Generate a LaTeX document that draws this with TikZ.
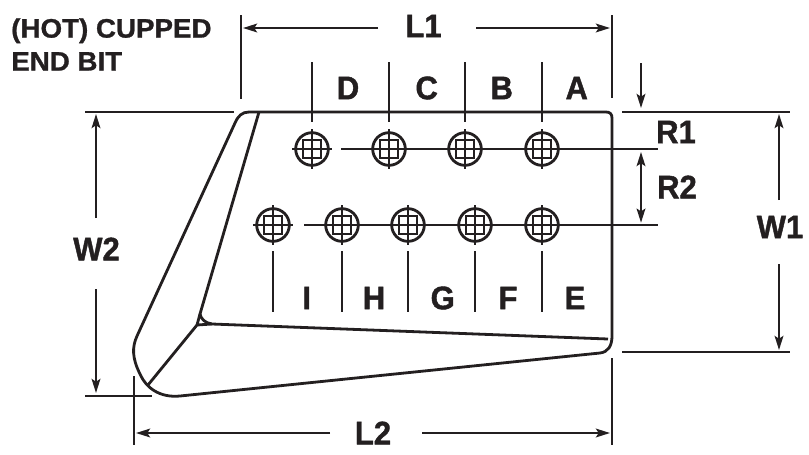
\documentclass[tikz,border=0pt]{standalone}
\usepackage{fontspec}
\setmainfont{Liberation Sans}
\newfontfamily\bigfont[FakeStretch=0.95,FakeBold=1.2]{Liberation Sans Bold}
\newfontfamily\titlefont[FakeStretch=1.04,FakeBold=1]{Liberation Sans Bold}
\usetikzlibrary{arrows.meta}
\definecolor{ink}{HTML}{231F20}
\tikzset{
  ln/.style={line width=1.9pt,color=ink,line cap=butt},
  tick/.style={line width=1.55pt,color=ink,line cap=butt},
  body/.style={line width=2.1pt,color=ink,line join=round},
  dim/.style={ln,line width=1.7pt,{Stealth[length=10.5pt,width=6.5pt,inset=2pt]}-{Stealth[length=10.5pt,width=6.5pt,inset=2pt]}},
  dimend/.style={ln,line width=1.7pt,-{Stealth[length=10.5pt,width=6.5pt,inset=2pt]}},
  big/.style={font=\bigfont\fontsize{24.5}{24.5}\selectfont,text=ink,inner sep=0pt},
  title/.style={font=\titlefont\fontsize{20}{24.7}\selectfont,text=ink,inner sep=0pt,align=left,anchor=north west},
  holec/.style={circle,draw=ink,line width=2.1pt,minimum size=24.5pt,inner sep=0pt,fill=none},
  holeln/.style={line width=1.8pt,color=ink}
}
\newcommand{\holemark}[3]{%
  \node[holec] (#1) at (#2,#3) {};
  \draw[holeln] (#2-20,#3) -- (#2+20,#3);
  \draw[holeln] (#2,#3-20) -- (#2,#3+20);
  \draw[holeln] (#2-9.25,#3-9.25) rectangle (#2+9.25,#3+9.25);
}
\begin{document}
\begin{tikzpicture}[x=0.75pt,y=-0.75pt]
\useasboundingbox (0,0) rectangle (809,454);
% body
\draw[body] (606,112) .. controls (610,112) and (612,114) .. (612,118) -- (612,336)
  .. controls (612,346) and (608,352) .. (600,353) -- (180,396)
  .. controls (160,398) and (146,388) .. (140,374)
  .. controls (132,358) and (132,347) .. (137,336) -- (235,123)
  .. controls (238,116) and (242,112) .. (249,112) -- cycle;
\draw[body] (259,112) -- (200,314) .. controls (201,319) and (205,323) .. (212,324) -- (608,339);
\draw[body] (148,385) -- (197,325) -- (212,324);
\draw[body] (200,314) -- (197,325);
% holes
\holemark{d}{312}{149}\holemark{c}{389}{149}\holemark{b}{465}{149}\holemark{a}{542}{149}
\holemark{i}{273}{225}\holemark{h}{342}{225}\holemark{g}{408}{225}\holemark{f}{475}{225}\holemark{e}{542}{225}
% centre lines
\coordinate (r1l) at (341,149); \coordinate (r1r) at (658,149);
\coordinate (r2l) at (304,225); \coordinate (r2r) at (658,225);
\draw[ln] (r1l) -- (r1r);
\draw[ln] (r2l) -- (r2r);
% extension lines above and below the holes
\foreach \x in {312,389,465,542}{
  \draw[tick] (\x,62) -- (\x,122);
}
\foreach \x in {273,342,408,475,542}{
  \draw[tick] (\x,251) -- (\x,312);
}
% outer extension
\coordinate (l1a) at (241,15); \coordinate (l1b) at (241,99);
\coordinate (l1c) at (612,15); \coordinate (l1d) at (612,98);
\draw[ln] (l1a) -- (l1b);
\draw[ln] (l1c) -- (l1d);
\draw[ln] (612,358) -- (612,445);
\draw[ln] (134,376) -- (134,445);
\draw[ln] (85,112) -- (234,112);
\draw[ln] (85,396) -- (152,396);
\draw[ln] (622,112) -- (790,112);
\draw[ln] (622,352) -- (790,352);
% labels
\node[title] (ttl) at (11,18) {(HOT) CUPPED\\END BIT};
\node[big] (L1) at (423.5,26) {L1};
\node[big] (L2) at (373,433) {L2};
\node[big] (W2) at (96.5,249) {W2};
\node[big] (W1) at (780,227) {W1};
\node[big] (R1) at (676,132) {R1};
\node[big] (R2) at (677,187) {R2};
\node[big] (A) at (576.7,88) {A};
\node[big] (B) at (501.7,88) {B};
\node[big] (C) at (426.7,88) {C};
\node[big] (D) at (348,88) {D};
\node[big] (E) at (575,298) {E};
\node[big] (F) at (508,298) {F};
\node[big] (G) at (442.7,298) {G};
\node[big] (H) at (374,298) {H};
\node[big] (I) at (306.7,298) {I};
% dimensions
\draw[dimend] (378,28) -- (243,28);
\draw[dimend] (476,28) -- (610,28);
\draw[dimend] (330,433) -- (136,433);
\draw[dimend] (422,433) -- (610,433);
\draw[dimend] (96,218) -- (96,114);
\draw[dimend] (96,289) -- (96,393);
\draw[dimend] (779,200) -- (779,114);
\draw[dimend] (779,264) -- (779,350);
\draw[dimend] (641,63) -- (641,108);
\draw[dim] (641,152) -- (641,222.7);
\end{tikzpicture}
\end{document}
